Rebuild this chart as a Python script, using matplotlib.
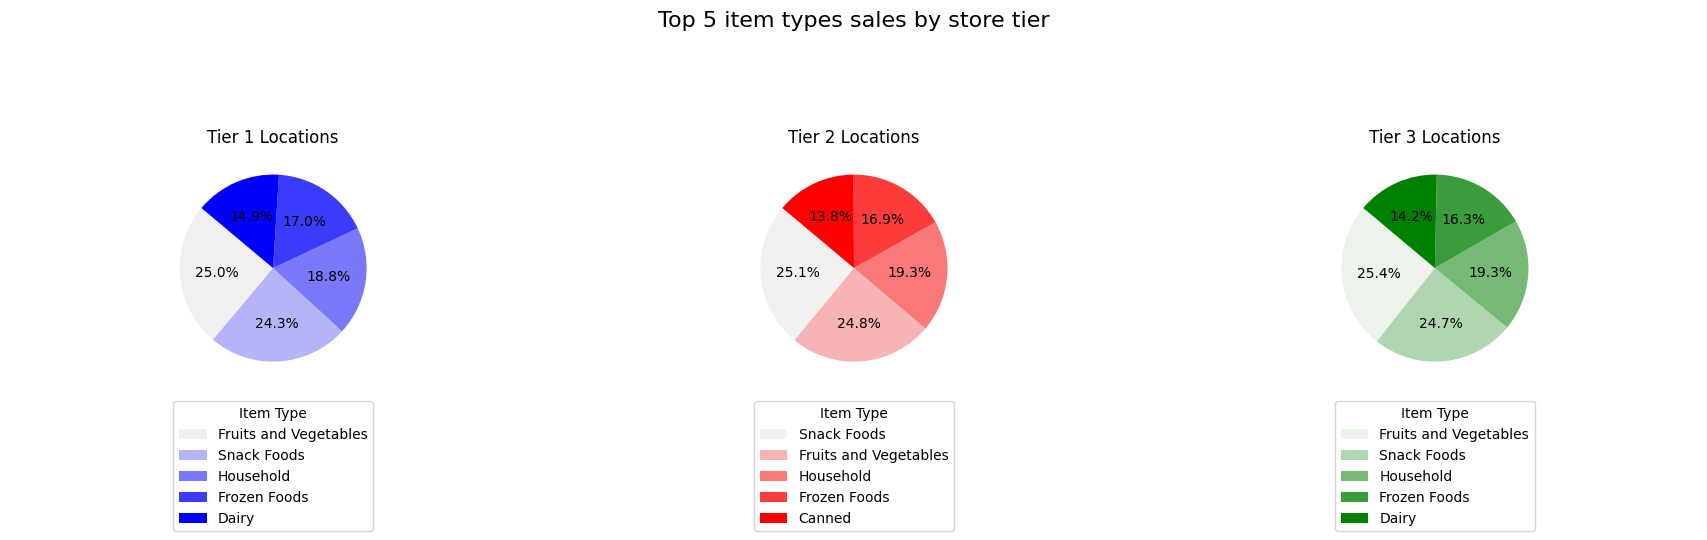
import matplotlib
matplotlib.use('Agg')
import matplotlib.pyplot as plt
import seaborn as sns

# share of sales (%) for the top 5 item types in each store tier
tiers = ['Tier 1', 'Tier 2', 'Tier 3']
tier1_items = ['Fruits and Vegetables', 'Snack Foods', 'Household', 'Frozen Foods', 'Dairy']
tier1_sales = [25.0, 24.3, 18.8, 17.0, 14.9]
tier2_items = ['Snack Foods', 'Fruits and Vegetables', 'Household', 'Frozen Foods', 'Canned']
tier2_sales = [25.1, 24.8, 19.3, 16.9, 13.8]
tier3_items = ['Fruits and Vegetables', 'Snack Foods', 'Household', 'Frozen Foods', 'Dairy']
tier3_sales = [25.4, 24.7, 19.3, 16.3, 14.2]
base_colors = ['blue', 'red', 'green']

items = [tier1_items, tier2_items, tier3_items]
sales = [tier1_sales, tier2_sales, tier3_sales]

fig, axes = plt.subplots(1, 3, figsize=(17.08, 5.4), dpi=100)
fig.subplots_adjust(left=0.043, right=0.957, bottom=0.287, top=0.720, wspace=0.455)

for ax, tier, labels, vals, c in zip(axes, tiers, items, sales, base_colors):
    palette = sns.light_palette(c, len(vals))
    wedges, texts, autotexts = ax.pie(vals, colors=palette, autopct='%1.1f%%', startangle=140)
    ax.set_title(f'{tier} Locations')
    ax.legend(wedges, labels, title='Item Type', loc='upper center', bbox_to_anchor=(0.5, -0.04))

fig.suptitle('Top 5 item types sales by store tier', fontsize=16)
plt.savefig('out.png')
